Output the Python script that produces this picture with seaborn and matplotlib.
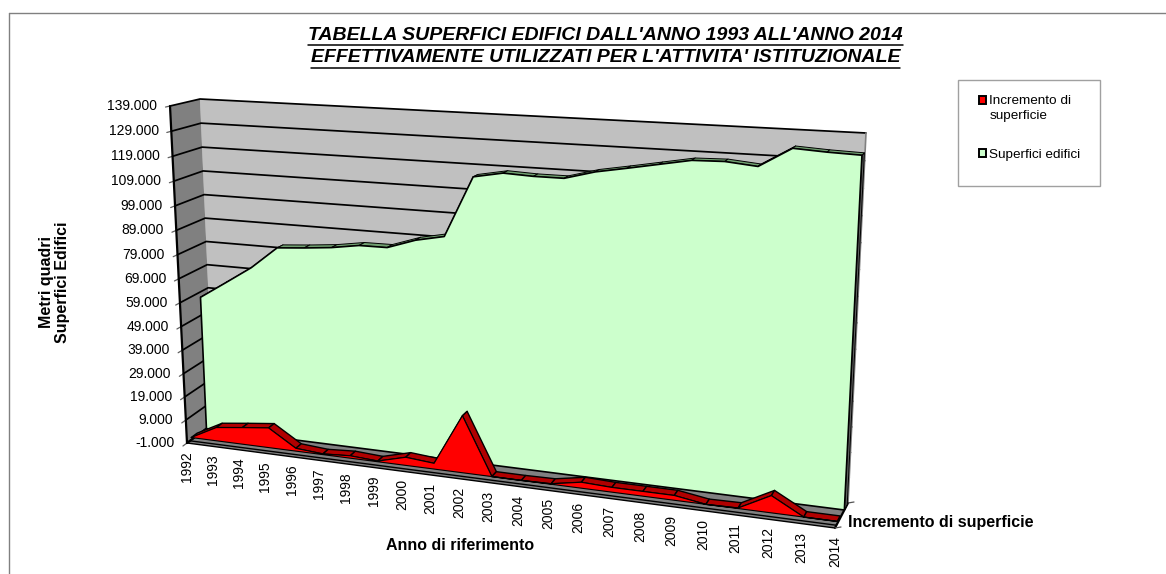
import numpy as np
import matplotlib
matplotlib.use("Agg")
import matplotlib.pyplot as plt
import seaborn as sns
from matplotlib.patches import Rectangle, Polygon
from matplotlib.legend_handler import HandlerPatch

years = [str(y) for y in range(1992, 2015)]
superfici_edifici = [56700, 64000, 71400, 80700, 81600, 82700, 84500, 84600, 88500, 90900, 115300,
                     117500, 117000, 117000, 120200, 122300, 124500, 126700, 127000, 125900,
                     133200, 132500, 132100]
incremento = [0, 5800, 7200, 8500, 1200, 300, 1000, 300, 3400, 2400, 23500,
              0, 0, 200, 2400, 1900, 1900, 1900, 0, 200, 6700, 0, 0]
y_ticks = list(range(-1000, 139001, 10000))
y_labels = [f"{v:,}".replace(",", ".") for v in y_ticks]
title_lines = ["TABELLA SUPERFICI EDIFICI DALL'ANNO 1993 ALL'ANNO 2014",
               "EFFETTIVAMENTE UTILIZZATI PER L'ATTIVITA' ISTITUZIONALE"]

sns.set_theme(style="white")
plt.rcParams["font.family"] = ["Liberation Sans", "DejaVu Sans"]
plt.rcParams["text.color"] = "black"

fig = plt.figure(figsize=(11.66, 5.74), dpi=100, facecolor="white")
ax = fig.add_axes([0, 0, 1, 1])
ax.set_xlim(0, 1166)
ax.set_ylim(574, 0)
ax.axis("off")


# projection of the 3D chart box: (year index, value, depth) -> canvas
def homography(quad):
    src = [(0, 0), (1, 0), (1, 1), (0, 1)]
    A, b = [], []
    for (u, w), (x, y) in zip(src, quad):
        A.append([u, w, 1, 0, 0, 0, -u * x, -w * x]); b.append(x)
        A.append([0, 0, 0, u, w, 1, -u * y, -w * y]); b.append(y)
    h = np.linalg.solve(np.array(A, float), np.array(b, float))
    return np.append(h, 1).reshape(3, 3)


H_front = homography([(187, 443), (835, 528), (855, 143), (170, 106)])
H_back = homography([(214, 423), (848, 503), (866, 133), (200, 99)])
V_MIN, V_MAX = y_ticks[0], y_ticks[-1]
T_MAX = len(years) - 1


def proj(t, v, d):
    t, v = np.broadcast_arrays(np.asarray(t, float), np.asarray(v, float))
    pts = np.stack([t / T_MAX, (v - V_MIN) / (V_MAX - V_MIN), np.ones_like(t, dtype=float)])

    def ap(H):
        q = H @ pts.reshape(3, -1)
        return q[:2] / q[2]

    p = (1 - d) * ap(H_front) + d * ap(H_back)
    return p[0], p[1]


def line(px, py, color="black", lw=1.2, z=3):
    sns.lineplot(x=px, y=py, ax=ax, color=color, linewidth=lw, estimator=None, sort=False,
                 legend=False, zorder=z, errorbar=None)


def poly(xy, fc, ec="none", lw=0.0, z=2):
    ax.add_patch(Polygon(np.column_stack(xy), closed=True, fc=fc, ec=ec, lw=lw, zorder=z, joinstyle="round"))


def quad_points(a, b):
    return np.r_[a[0], b[0][::-1]], np.r_[a[1], b[1][::-1]]


def path(*pts):
    return np.concatenate([p[0] for p in pts]), np.concatenate([p[1] for p in pts])


all_t = np.arange(len(years))
# back wall, side wall, floor
poly(quad_points(proj([0, T_MAX], V_MIN, 1), proj([0, T_MAX], V_MAX, 1)), "#C0C0C0", z=1)
poly(path(proj(0, V_MIN, 0), proj(0, V_MIN, 1), proj(0, V_MAX, 1), proj(0, V_MAX, 0)), "#808080", z=1)
poly(quad_points(proj([0, T_MAX], V_MIN, 0), proj([0, T_MAX], V_MIN, 1)), "#808080", z=1)

# gridlines and their small outer ticks
for v in y_ticks:
    line(*path(proj(0, v, 0), proj([0, T_MAX], v, 1)), z=1.5, lw=1.25)
    line(*path(proj(0, v, -0.15), proj(0, v, 0)), color="#606060", lw=0.9, z=1.5)
line(*proj([T_MAX, T_MAX], [V_MIN, V_MAX], 1), color="#808080", lw=1.2, z=1.5)
line(*proj([0, 0], [V_MIN, V_MAX], 0), lw=1.6, z=6)

# floor slab lines in front
for d in (0.0, 0.11):
    line(*proj([0, T_MAX], V_MIN, d), lw=1.0, z=2.5)
for t_edge in (0, T_MAX):
    line(*path(proj(t_edge, V_MIN, 0), proj(t_edge, V_MIN, 1)), lw=1.6, z=2.5)


def area_series(values, base, d0, d1, face, ribbon, cap, z, rib_lw, face_lw):
    values = np.asarray(values, float)
    n = len(values)
    poly(path(proj(T_MAX, base, d0), proj(T_MAX, base, d1), proj(T_MAX, values[-1], d1),
              proj(T_MAX, values[-1], d0)), cap, ec="black", lw=rib_lw, z=z)
    for i in range(n - 1):
        tt = all_t[i:i + 2]
        poly(quad_points(proj(tt, values[i:i + 2], d0), proj(tt, values[i:i + 2], d1)), ribbon,
             ec="black", lw=rib_lw, z=z)
    tx, ty = proj(all_t, values, d0)
    bx, by = proj(all_t, np.full(n, base), d0)
    poly((np.r_[tx, bx[::-1]], np.r_[ty, by[::-1]]), face, ec="black", lw=face_lw, z=z + 0.1)


area_series(superfici_edifici, V_MIN, 0.72, 0.94, "#CCFFCC", "#6F9F6F", "#606060", 3, 0.7, 1.2)
area_series(incremento, 0, 0.16, 0.38, "#FF0000", "#B00000", "#B00000", 4, 1.0, 0.8)

# small ticks on depth axis
for d in (0.0, 1.0):
    px, py = proj(T_MAX, V_MIN, d)
    line(np.r_[px, px + 6], np.r_[py, py - 1], color="#555555", lw=0.9, z=2.6)

# y tick labels
for v, lab in zip(y_ticks, y_labels):
    px, py = proj(0, v, 0)
    ax.text(px[0] - 12.5, py[0], lab, ha="right", va="center", fontsize=10, color="black")
# x tick labels
for t, lab in zip(all_t, years):
    px, py = proj(t, V_MIN, 0)
    ax.text(px[0], py[0] + 8, lab, ha="center", va="top", rotation=90, fontsize=10, color="black")

ax.text(848, 522, "Incremento di superficie", ha="left", va="center", fontsize=11.5, fontweight="bold")
ax.text(460.5, 545, "Anno di riferimento", ha="center", va="center", fontsize=11.5, fontweight="bold")
ax.text(54.5, 282, "Metri quadri\nSuperfici Edifici", ha="center", va="center", rotation=90,
        fontsize=11.5, fontweight="bold", linespacing=1.15, multialignment="center")

# title with underline
fig.canvas.draw()
rend = fig.canvas.get_renderer()
inv = ax.transData.inverted()
for yy, s in zip((35, 58), title_lines):
    t = ax.text(605.5, yy, s, ha="center", va="center", fontsize=14, fontweight="bold", fontstyle="italic")
    bb = t.get_window_extent(rend)
    (x0, _), (x1, _) = inv.transform([(bb.x0, bb.y0), (bb.x1, bb.y1)])
    ax.plot([x0, x1], [yy + 10, yy + 10], color="black", lw=1.1, zorder=5)


# legend
def first_line_patch(legend, orig_handle, xdescent, ydescent, width, height, fontsize):
    return Rectangle((-xdescent, -ydescent + 0.62 * fontsize), width, height)


ax.add_patch(Rectangle((958, 80), 142, 106, fc="white", ec="#A0A0A0", lw=1.0, zorder=1))
h_red = Rectangle((0, 0), 1, 1, fc="#FF0000", ec="black", lw=1.4)
h_green = Rectangle((0, 0), 1, 1, fc="#CCFFCC", ec="black", lw=1.4)
leg = ax.legend([h_red, h_green], ["Incremento di\nsuperficie", "Superfici edifici"], loc="upper left",
                bbox_to_anchor=(978.5 / 1166, 1 - 95 / 574), frameon=False, fontsize=9.7,
                handlelength=0.55, handleheight=0.55, handletextpad=0.25, labelspacing=2.0,
                borderpad=0, borderaxespad=0,
                handler_map={h_red: HandlerPatch(patch_func=first_line_patch)})
leg.get_texts()[0].set_linespacing(1.3)

# outer frame
ax.plot([9, 9], [12.5, 574], color="#808080", lw=1.0)
ax.plot([9, 1166], [12.5, 12.5], color="#808080", lw=1.0)
fig.savefig("out.png", dpi=100)
